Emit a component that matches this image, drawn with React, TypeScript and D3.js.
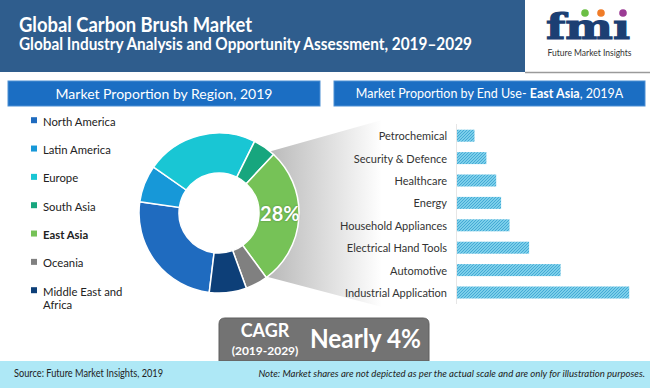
import React from 'react';
import * as d3 from 'd3';

// region shares (donut), legend order
const regions = ['North America', 'Latin America', 'Europe', 'South Asia', 'East Asia', 'Oceania', 'Middle East and Africa'];
const regionShares = [25.3, 7.5, 22.6, 4.6, 28, 4.5, 7.5];
const regionColors = ['#1f6bbf', '#1798d8', '#19c6d4', '#17a67e', '#76c257', '#808080', '#0d3f78'];
const highlight = 'East Asia';

// end use split for East Asia (illustrative lengths)
const endUses = ['Petrochemical', 'Security & Defence', 'Healthcare', 'Energy', 'Household Appliances', 'Electrical Hand Tools', 'Automotive', 'Industrial Application'];
const endUseValues = [2.5, 4.2, 5.6, 6.3, 7.5, 10.3, 14.8, 24.6];

const cagrLabel = 'Nearly 4%';
const cagrPeriod = '(2019-2029)';

const FONT = 'Lato, "Open Sans", sans-serif';

const App = () => {
  const W = 650, H = 388;

  // donut
  const cx = 219, cy = 213;
  const start = 187 * Math.PI / 180;
  const pie = d3.pie<number>().sort(null).value(d => d).startAngle(start).endAngle(start + 2 * Math.PI);
  const arcs = pie(regionShares);
  const arc = d3.arc<d3.PieArcDatum<number>>().innerRadius(40).outerRadius(80);
  const hiIdx = regions.indexOf(highlight);
  const hiCentroid = arc.centroid(arcs[hiIdx]);

  // bars
  const x = d3.scaleLinear().domain([0, 25]).range([457, 632]);
  const y = d3.scalePoint().domain(endUses).range([135.7, 292.5]);
  const barH = 12;

  // legend
  const ly = d3.scalePoint().domain(regions).range([120.7, 290.7]);

  // cagr box, rounded top corners only (bottom sits under the footer)
  const bx = 219, by = 318, bw = 210, bb = 361, br = 6;
  const boxPath = `M${bx},${bb} V${by + br} Q${bx},${by} ${bx + br},${by} H${bx + bw - br} Q${bx + bw},${by} ${bx + bw},${by + br} V${bb} Z`;

  return (
    <svg width={W} height={H} style={{ position: 'fixed', left: 0, top: 0, fontFamily: FONT }}>
      <defs>
        <pattern id="hatch" patternUnits="userSpaceOnUse" width="3" height="3">
          <rect width="3" height="3" fill="#7ccfea" />
          <path d="M-1,1 l2,-2 M0,3 l3,-3 M2,4 l2,-2" stroke="#3ea6d3" strokeWidth="0.9" />
        </pattern>
        <linearGradient id="funnel" x1="0" x2="1" y1="0" y2="0">
          <stop offset="0" stopColor="#b9b9b9" />
          <stop offset="1" stopColor="#ffffff" />
        </linearGradient>
      </defs>
      <rect width={W} height={H} fill="#fff" />

      {/* header */}
      <rect x={0} y={0} width={525} height={72} fill="#2f5d8d" />
      <rect x={525} y={0} width={125} height={72} fill="#fff" />
      <line x1={525} x2={650} y1={72.5} y2={72.5} stroke="#9a9a9a" strokeWidth={1.5} />
      <text x={19} y={32} fill="#fff" fontWeight="bold" fontSize={20} textLength={233} lengthAdjust="spacingAndGlyphs">Global Carbon Brush Market</text>
      <text x={19} y={50} fill="#fff" fontWeight="bold" fontSize={16.5} textLength={453} lengthAdjust="spacingAndGlyphs">Global Industry Analysis and Opportunity Assessment, 2019–2029</text>

      {/* logo */}
      <text x={546} y={39} fill="#1c3f73" stroke="#1c3f73" strokeWidth={1.2} fontFamily='"DejaVu Serif", serif' fontWeight="bold" fontSize={36} textLength={84} lengthAdjust="spacingAndGlyphs">fmı</text>
      <circle cx={585} cy={13} r={3.8} fill="#6cbf45" />
      <circle cx={601} cy={13} r={3.8} fill="#f07c28" />
      <circle cx={623} cy={13} r={3.8} fill="#9b3b94" />
      <text x={589.5} y={56} textAnchor="middle" fill="#333" fontSize={8.5}>Future Market Insights</text>

      {/* section headers */}
      <rect x={8} y={81} width={312} height={25} fill="#1b6ec3" stroke="#4d8fd4" strokeWidth={1} />
      <text x={164} y={98.5} textAnchor="middle" fill="#fff" fontSize={14}>Market Proportion by Region, 2019</text>
      <rect x={334} y={81} width={311} height={25} fill="#1b6ec3" stroke="#4d8fd4" strokeWidth={1} />
      <text x={489.5} y={98} textAnchor="middle" fill="#fff" fontSize={12.5}>
        Market Proportion by End Use- <tspan fontWeight="bold">{highlight}</tspan>, 2019A
      </text>

      {/* legend */}
      {regions.map((r, i) => {
        const yy = ly(r)!;
        const bold = r === highlight;
        const parts = r === 'Middle East and Africa' ? ['Middle East and', 'Africa'] : [r];
        return (
          <g key={r}>
            <rect x={31} y={yy - 3.5} width={6} height={6} fill={regionColors[i]} />
            <text x={43} y={yy} dominantBaseline="central" fontSize={11.3} fill="#222" fontWeight={bold ? 'bold' : 'normal'}>
              {parts.map((p, j) => <tspan key={j} x={43} dy={j === 0 ? 0 : 13.5}>{p}</tspan>)}
            </text>
          </g>
        );
      })}

      {/* funnel to breakdown */}
      <polygon points="268,152 382,120 382,307 268,277" fill="url(#funnel)" />

      {/* donut */}
      <g transform={`translate(${cx},${cy})`}>
        {arcs.map((a, i) => (
          <path key={regions[i]} d={arc(a)!} fill={regionColors[i]} stroke="#fff" strokeWidth={1.5} />
        ))}
        <text x={hiCentroid[0] + 1} y={hiCentroid[1] - 4} textAnchor="middle" dominantBaseline="central" fill="#fff" fontWeight="bold" fontSize={20} style={{ textShadow: '0 0 2px rgba(0,0,0,0.35)' }}>
          {regionShares[hiIdx]}%
        </text>
      </g>

      {/* end use bars */}
      <line x1={456.5} x2={456.5} y1={124} y2={304} stroke="#e6e6e6" />
      {endUses.map((e, i) => (
        <g key={e}>
          <rect x={x(0)} y={y(e)! - barH / 2} width={x(endUseValues[i]) - x(0)} height={barH} fill="url(#hatch)" />
          <text x={447} y={y(e)!} textAnchor="end" dominantBaseline="central" fontSize={11} fill="#333">{e}</text>
        </g>
      ))}

      {/* CAGR box */}
      <path d={boxPath} fill="#737373" stroke="#5e5e5e" strokeWidth={1} />
      <text x={265} y={337} textAnchor="middle" fill="#fff" fontWeight="bold" fontSize={18}>CAGR</text>
      <text x={265} y={355} textAnchor="middle" fill="#fff" fontWeight="bold" fontSize={12}>{cagrPeriod}</text>
      <text x={310} y={348} fill="#fff" fontWeight="bold" fontSize={26} textLength={111} lengthAdjust="spacingAndGlyphs">{cagrLabel}</text>

      {/* footer */}
      <rect x={0} y={361} width={W} height={27} fill="#aee8f6" />
      <text x={14} y={377} fontSize={10.5} fill="#222" textLength={149} lengthAdjust="spacingAndGlyphs">Source: Future Market Insights, 2019</text>
      <text x={645} y={377} textAnchor="end" fontSize={9.6} fill="#222" fontStyle="italic">Note: Market shares are not depicted as per the actual scale and are only for illustration purposes.</text>
    </svg>
  );
};

export default App;
